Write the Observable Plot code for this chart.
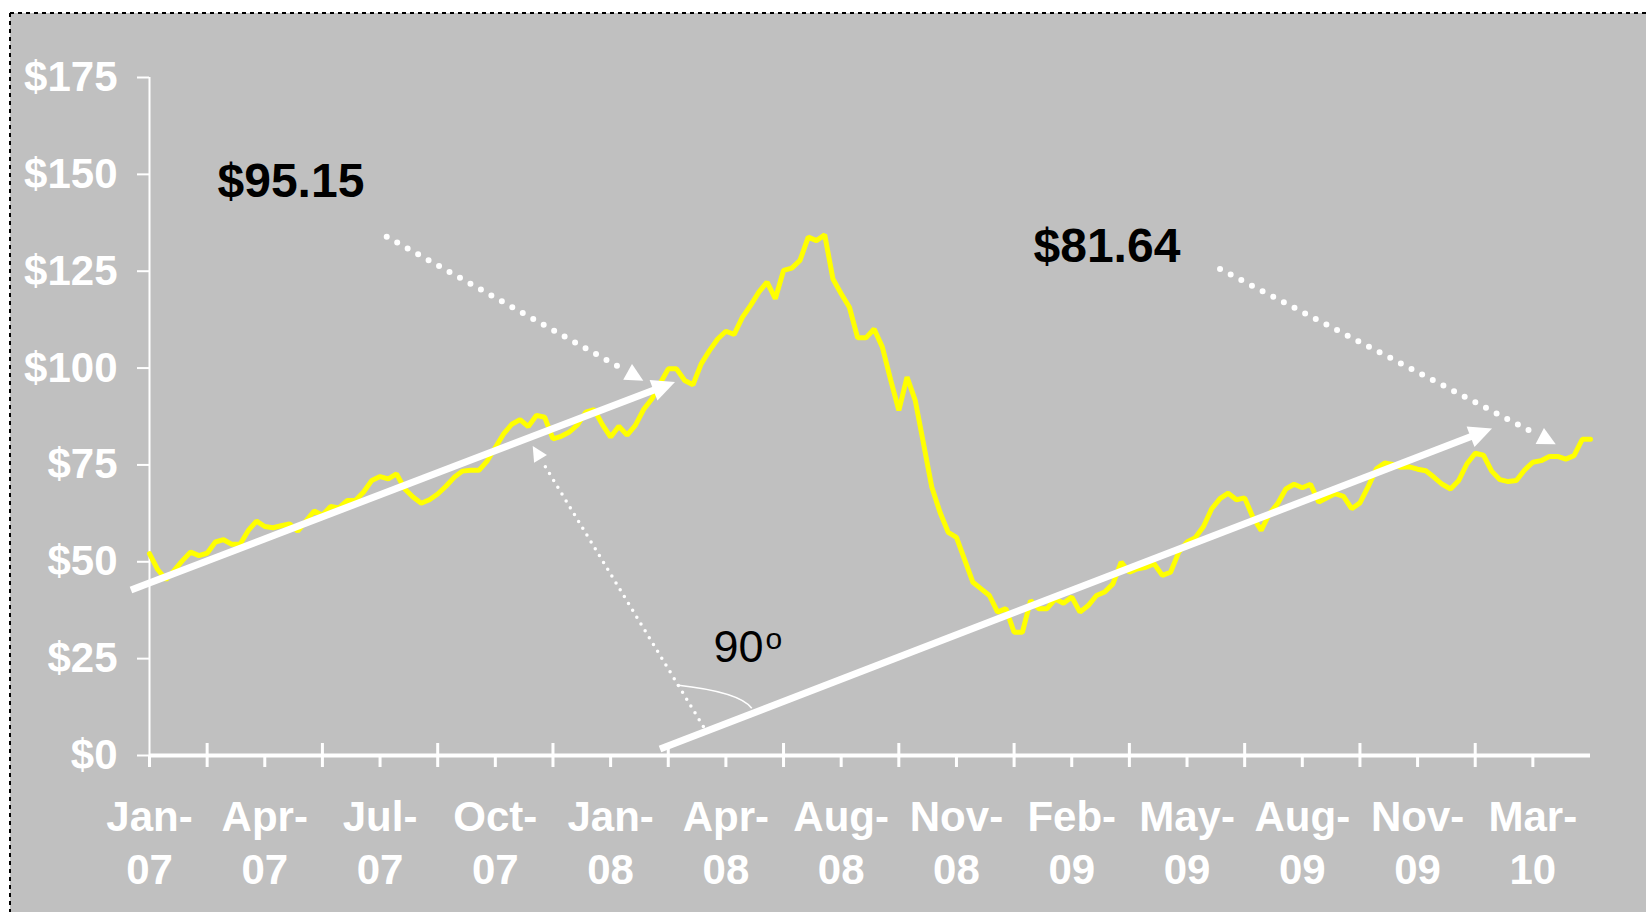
<!DOCTYPE html>
<html><head><meta charset="utf-8">
<script src="https://cdn.jsdelivr.net/npm/d3@7"></script>
<script src="https://cdn.jsdelivr.net/npm/@observablehq/plot@0.6"></script>
<style>
html,body{margin:0;padding:0;background:#fff;width:1646px;height:912px;overflow:hidden;}
#bg{position:absolute;left:10px;top:13px;width:1636px;height:899px;background:#c0c0c0;}
#frame{position:absolute;left:0;top:0;}
#chart{position:absolute;left:0;top:0;}
</style></head><body>
<div id="bg"></div>
<svg id="frame" width="1646" height="912">
  <line x1="10" y1="13" x2="10" y2="912" stroke="#000" stroke-width="2" stroke-dasharray="4 4"/>
  <line x1="10" y1="13" x2="1646" y2="13" stroke="#000" stroke-width="2" stroke-dasharray="4 4"/>
</svg>
<div id="chart"></div>
<script>
// Weekly price (US$) from Jan-07 onward, one value per week
const prices = [
  52.1, 48.0, 45.4, 47.8, 50.3, 52.5, 51.6, 52.2, 55.1, 55.7,
  54.5, 54.5, 58.1, 60.5, 59.1, 58.8, 59.3, 59.8, 57.9, 60.5,
  63.1, 62.0, 64.3, 63.9, 65.8, 65.8, 68.0, 71.0, 72.0, 71.4,
  72.7, 68.8, 66.7, 65.1, 66.0, 67.5, 69.5, 71.8, 73.4, 73.6,
  73.6, 76.0, 79.5, 83.0, 85.5, 86.7, 84.9, 87.8, 87.3, 81.7,
  82.4, 83.5, 85.4, 88.6, 89.3, 85.4, 82.2, 85.0, 82.7, 85.2,
  89.3, 92.0, 96.0, 99.8, 99.8, 96.8, 95.7, 101.1, 104.5, 107.5,
  109.5, 108.7, 113.1, 116.2, 119.6, 122.2, 117.9, 125.2, 125.8, 127.8,
  133.8, 132.9, 134.4, 123.0, 119.2, 115.7, 107.8, 107.8, 110.1, 105.4,
  97.0, 89.1, 97.7, 91.6, 80.5, 69.3, 62.8, 57.6, 56.3, 50.5,
  44.7, 43.0, 41.3, 37.0, 37.9, 31.8, 31.8, 40.0, 37.9, 37.9,
  40.4, 39.3, 40.9, 37.0, 38.7, 41.3, 42.2, 44.3, 49.9, 47.3,
  48.2, 48.6, 49.5, 46.5, 47.3, 52.5, 55.1, 56.2, 59.1, 63.7,
  66.3, 67.7, 66.0, 66.5, 61.5, 58.1, 62.4, 65.0, 68.8, 70.0,
  69.1, 70.0, 65.4, 66.5, 67.6, 66.9, 63.7, 65.2, 69.4, 74.0,
  75.5, 75.1, 74.4, 74.5, 73.9, 73.5, 71.8, 70.0, 68.8, 71.0,
  75.3, 78.0, 77.5, 73.4, 71.2, 70.7, 71.0, 73.7, 75.7, 76.1,
  77.2, 77.2, 76.5, 77.4, 81.6, 81.6
];
// Category-axis labels (one every 14 weeks) and y ticks
const tickMonths = ["Jan","Apr","Jul","Oct","Jan","Apr","Aug","Nov","Feb","May","Aug","Nov","Mar"];
const tickYears  = ["07","07","07","07","08","08","08","08","09","09","09","09","10"];
const weeksPerLabel = 14;
const yTicks = [0, 25, 50, 75, 100, 125, 150, 175];

// Annotations, in data units (week index, price)
const noteText = ["$95.15", "$81.64"];
const noteWeek = [8.26, 107.36];
const notePrice = [144.06, 127.26];
const trendFrom = [[-2.19, 42.6], [62.06, 1.55]];
const trendTo   = [[63.88, 96.28], [163.10, 84.28]];
const pointerFrom = [[28.87, 133.79], [130.07, 125.45]];
const pointerTo   = [[60.03, 96.62], [170.84, 80.20]];
const normalFrom = [[67.32, 7.36]];
const normalTo   = [[46.60, 79.76]];
const arcPoints = [[64.09, 18.07], [71.78, 16.26], [73.20, 12.05]];
const angleText = ["90", "o"];
const angleWeek = [68.5, 74.8];
const anglePrice = [24.26, 27.49];

const labelIdx = tickMonths.map((_, j) => j * weeksPerLabel);
const midIdx = labelIdx.slice(0, -1).map(i => i + weeksPerLabel / 2);
const N = prices.length;
const font = "Arial, 'Liberation Sans', sans-serif";
const axisColor = "#ffffff";

const chart = Plot.plot({
  width: 1646, height: 912,
  marginLeft: 149, marginRight: 56, marginTop: 77, marginBottom: 157,
  style: {background: "transparent", fontFamily: font, overflow: "visible"},
  x: {type: "linear", domain: [0, N - 1]},
  y: {domain: [0, 175]},
  marks: [
    Plot.ruleX([0], {y1: 0, y2: 175, stroke: "white", strokeWidth: 2}),
    Plot.axisY({ticks: yTicks, tickSize: 12, tickPadding: 20, tickFormat: d => "$" + d,
      fontSize: 42, fontWeight: "bold", color: axisColor, strokeWidth: 2, label: null}),
    Plot.axisX({ticks: labelIdx, tickSize: 0, tickPadding: 39,
      tickFormat: d => { const j = Math.round(d / weeksPerLabel); return tickMonths[j] + "-\n" + tickYears[j]; },
      fontSize: 42, fontWeight: "bold", lineHeight: 1.24, color: axisColor, label: null}),
    Plot.ruleY([0], {x1: 0, x2: N - 1, stroke: "white", strokeWidth: 4}),
    Plot.ruleX(labelIdx, {x: d => d, y1: 0, y2: 0, insetBottom: -12, stroke: "white", strokeWidth: 3}),
    Plot.ruleX(midIdx, {x: d => d, y1: 0, y2: 0, insetTop: -12, insetBottom: -12, stroke: "white", strokeWidth: 3}),
    Plot.line(prices, {x: (d, i) => i, y: d => d, stroke: "#ffff00", strokeWidth: 5, strokeLinejoin: "miter"}),
    Plot.text(noteText, {x: (d, i) => noteWeek[i], y: (d, i) => notePrice[i], text: d => d,
      textAnchor: "start", lineAnchor: "bottom", fontSize: 48, fontWeight: "bold", fill: "black"}),
    Plot.text(angleText, {x: (d, i) => angleWeek[i], y: (d, i) => anglePrice[i], text: d => d,
      textAnchor: "start", lineAnchor: "bottom", fontSize: (d, i) => i === 0 ? 45 : 30, fill: "black"})
  ]
});
document.getElementById("chart").append(chart);

// Arrows drawn through the plot's own scales
const sx = chart.scale("x"), sy = chart.scale("y");
const svg = d3.select(chart);
const layer = svg.append("g");
function arrow(from, to, {width, dash, headLen, headHalf}) {
  const x1 = sx.apply(from[0]), y1 = sy.apply(from[1]);
  const x2 = sx.apply(to[0]), y2 = sy.apply(to[1]);
  const L = Math.hypot(x2 - x1, y2 - y1), ux = (x2 - x1) / L, uy = (y2 - y1) / L;
  const bx = x2 - ux * headLen, by = y2 - uy * headLen;
  const back = dash ? headLen + 4 : headLen - 2;
  layer.append("line")
    .attr("x1", x1).attr("y1", y1).attr("x2", x2 - ux * back).attr("y2", y2 - uy * back)
    .attr("stroke", "white").attr("stroke-width", width)
    .attr("stroke-linecap", dash ? "round" : "butt")
    .attr("stroke-dasharray", dash || null);
  layer.append("path")
    .attr("d", `M${x2},${y2}L${bx - uy * headHalf},${by + ux * headHalf}L${bx + uy * headHalf},${by - ux * headHalf}Z`)
    .attr("fill", "white");
}
trendFrom.forEach((f, i) => arrow(f, trendTo[i], {width: 7, headLen: 23, headHalf: 11}));
pointerFrom.forEach((f, i) => arrow(f, pointerTo[i], {width: 6, dash: "0 12", headLen: 18, headHalf: 9}));
normalFrom.forEach((f, i) => arrow(f, normalTo[i], {width: 3.5, dash: "0 8", headLen: 15, headHalf: 7.5}));
const [p0, pc, p1] = arcPoints.map(([w, v]) => [sx.apply(w), sy.apply(v)]);
layer.append("path")
  .attr("d", `M${p0[0]},${p0[1]}Q${pc[0]},${pc[1]} ${p1[0]},${p1[1]}`)
  .attr("fill", "none").attr("stroke", "white").attr("stroke-width", 1.6);
</script>
</body></html>
